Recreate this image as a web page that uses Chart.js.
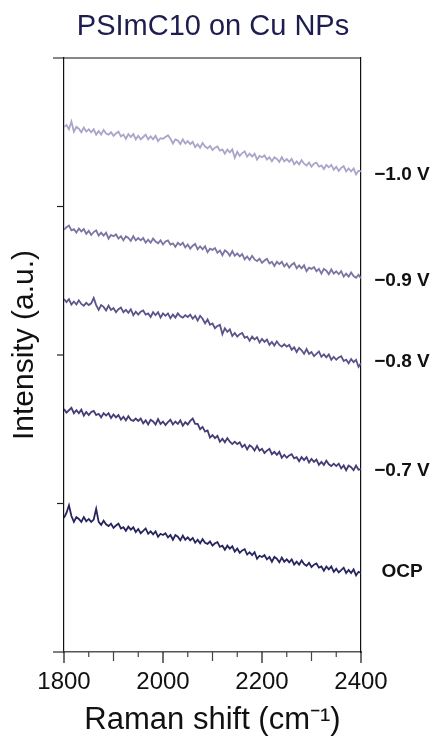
<!DOCTYPE html>
<html>
<head>
<meta charset="utf-8">
<script src="https://cdn.jsdelivr.net/npm/chart.js@4/dist/chart.umd.min.js"></script>
<style>
  body { margin: 0; background: #fff; }
</style>
</head>
<body>
<canvas id="ramanChart" width="436" height="740"></canvas>
<script>
// Raman shift (cm-1), sampled every 5
const shift = [
  1800, 1805, 1810, 1815, 1820, 1825, 1830, 1835, 1840, 1845,
  1850, 1855, 1860, 1865, 1870, 1875, 1880, 1885, 1890, 1895,
  1900, 1905, 1910, 1915, 1920, 1925, 1930, 1935, 1940, 1945,
  1950, 1955, 1960, 1965, 1970, 1975, 1980, 1985, 1990, 1995,
  2000, 2005, 2010, 2015, 2020, 2025, 2030, 2035, 2040, 2045,
  2050, 2055, 2060, 2065, 2070, 2075, 2080, 2085, 2090, 2095,
  2100, 2105, 2110, 2115, 2120, 2125, 2130, 2135, 2140, 2145,
  2150, 2155, 2160, 2165, 2170, 2175, 2180, 2185, 2190, 2195,
  2200, 2205, 2210, 2215, 2220, 2225, 2230, 2235, 2240, 2245,
  2250, 2255, 2260, 2265, 2270, 2275, 2280, 2285, 2290, 2295,
  2300, 2305, 2310, 2315, 2320, 2325, 2330, 2335, 2340, 2345,
  2350, 2355, 2360, 2365, 2370, 2375, 2380, 2385, 2390, 2395,
  2400
];

// stacked intensities (a.u., offset per potential)
const vNeg10 = [
  88.4, 88.7, 88.0, 89.3, 87.6, 88.4, 88.1, 87.5, 88.3, 87.6,
  88.0, 87.5, 88.0, 87.1, 87.7, 87.1, 87.9, 87.3, 87.1, 87.5,
  86.9, 87.3, 87.6, 86.8, 87.1, 86.4, 87.2, 86.7, 87.2, 86.3,
  86.9, 86.3, 86.7, 87.1, 86.3, 86.8, 86.3, 86.9, 86.0, 86.5,
  86.4, 86.7, 87.0, 86.4, 85.6, 86.3, 86.1, 85.5, 86.3, 85.6,
  86.0, 85.5, 85.9, 85.0, 85.5, 84.9, 85.7, 85.1, 84.8, 85.2,
  84.5, 84.9, 85.1, 84.4, 84.6, 83.9, 84.6, 84.1, 84.6, 83.2,
  84.2, 83.5, 84.0, 84.3, 83.4, 83.9, 83.4, 83.9, 82.9, 83.5,
  83.3, 83.6, 82.9, 83.3, 82.6, 83.3, 83.0, 82.5, 83.3, 82.6,
  83.0, 82.5, 83.0, 82.1, 82.6, 82.1, 82.8, 82.2, 81.9, 82.4,
  81.7, 82.2, 82.4, 81.7, 81.9, 81.3, 82.0, 81.6, 82.0, 81.2,
  81.7, 81.0, 81.5, 81.8, 80.9, 81.4, 80.9, 81.4, 80.4, 81.0,
  80.9
];
const vNeg09 = [
  71.1, 71.5, 71.8, 71.0, 71.2, 70.6, 71.3, 70.8, 71.2, 70.4,
  70.9, 70.2, 70.7, 71.0, 70.1, 70.6, 70.1, 70.6, 69.6, 70.2,
  70.0, 70.3, 69.6, 70.0, 69.3, 70.0, 69.7, 69.2, 70.0, 69.3,
  69.7, 69.3, 69.7, 68.9, 69.4, 68.9, 69.6, 69.1, 68.8, 69.3,
  68.6, 69.1, 69.3, 68.6, 68.8, 68.2, 68.9, 68.5, 68.9, 68.1,
  68.6, 67.9, 68.4, 68.7, 67.8, 68.3, 67.8, 68.3, 67.3, 67.9,
  67.7, 68.0, 67.2, 67.6, 66.8, 67.6, 67.3, 66.7, 67.5, 66.7,
  67.1, 66.6, 67.0, 66.1, 66.6, 66.0, 66.7, 66.1, 65.8, 66.2,
  65.5, 65.9, 66.2, 65.4, 65.7, 65.0, 65.7, 65.3, 65.7, 64.9,
  65.4, 64.7, 65.2, 65.5, 64.6, 65.1, 64.6, 65.1, 64.1, 64.7,
  64.5, 64.8, 64.1, 64.5, 63.7, 64.5, 64.2, 63.6, 64.4, 63.7,
  64.1, 63.6, 64.1, 63.2, 63.7, 63.2, 63.9, 63.3, 63.0, 63.5,
  62.9
];
const vNeg08 = [
  59.4, 58.9, 59.4, 58.5, 59.0, 58.5, 59.2, 58.6, 58.3, 58.8,
  58.4, 58.7, 59.6, 58.4, 57.6, 58.4, 58.1, 57.5, 58.3, 57.6,
  57.9, 57.2, 57.7, 58.0, 57.2, 57.6, 57.1, 57.7, 56.7, 57.3,
  56.8, 57.3, 57.5, 56.8, 57.0, 56.4, 57.2, 56.7, 57.2, 56.3,
  57.0, 56.6, 57.0, 56.2, 56.8, 56.3, 57.0, 56.5, 56.3, 56.7,
  56.4, 56.8, 56.1, 56.6, 55.8, 56.6, 56.1, 55.3, 56.0, 55.1,
  55.3, 54.5, 54.9, 55.1, 53.5, 54.5, 53.9, 54.3, 53.2, 53.7,
  53.1, 53.5, 53.7, 52.9, 53.1, 52.4, 53.1, 52.6, 53.0, 52.1,
  52.7, 52.2, 52.6, 51.7, 52.2, 51.6, 52.3, 51.7, 51.4, 51.8,
  51.4, 51.7, 50.9, 51.3, 50.5, 51.2, 50.8, 50.2, 51.0, 50.2,
  50.5, 49.8, 50.2, 50.6, 49.7, 50.1, 49.6, 50.1, 49.2, 49.7,
  49.2, 49.6, 49.8, 49.0, 49.2, 48.6, 49.3, 48.8, 49.2, 48.0,
  48.6
];
const vNeg07 = [
  40.9, 40.3, 40.7, 41.1, 40.2, 40.7, 40.2, 40.8, 39.8, 40.4,
  39.9, 40.4, 40.6, 39.9, 40.1, 39.5, 40.2, 39.8, 40.2, 39.4,
  40.0, 39.5, 39.9, 39.1, 39.6, 39.0, 39.7, 39.1, 38.9, 39.3,
  38.9, 39.3, 38.5, 39.0, 38.3, 39.1, 38.8, 38.3, 39.2, 38.4,
  38.8, 38.2, 38.7, 39.1, 38.3, 38.8, 38.4, 39.0, 38.1, 38.7,
  38.3, 38.9, 39.3, 38.4, 38.4, 37.5, 37.9, 37.1, 37.3, 36.1,
  36.5, 36.0, 36.4, 35.4, 35.9, 35.3, 36.0, 35.4, 35.0, 35.4,
  35.0, 35.3, 34.5, 34.9, 34.1, 34.8, 34.5, 33.9, 34.7, 33.9,
  34.2, 33.5, 33.9, 34.2, 33.3, 33.7, 33.2, 33.7, 32.7, 33.2,
  32.7, 33.1, 33.3, 32.6, 32.8, 32.1, 32.8, 32.3, 32.8, 31.9,
  32.5, 32.0, 32.4, 31.5, 32.0, 31.5, 32.2, 31.6, 31.3, 31.7,
  31.3, 31.7, 30.9, 31.4, 30.6, 31.4, 31.1, 30.6, 31.4, 30.7,
  30.8
];
const vOcp = [
  22.6, 23.4, 24.7, 22.9, 21.9, 22.7, 22.4, 21.9, 22.7, 22.0,
  22.4, 21.9, 22.3, 24.1, 21.9, 21.4, 22.1, 21.5, 21.2, 21.6,
  20.9, 21.3, 21.6, 20.8, 21.0, 20.4, 21.1, 20.6, 21.0, 20.2,
  20.7, 20.0, 20.4, 20.8, 19.9, 20.3, 19.8, 20.3, 19.4, 19.9,
  19.7, 20.0, 19.3, 19.7, 18.9, 19.7, 19.4, 18.8, 19.6, 18.9,
  19.3, 18.8, 19.2, 18.4, 18.9, 18.3, 19.0, 18.4, 18.2, 18.6,
  17.9, 18.3, 18.5, 17.7, 17.9, 17.2, 17.9, 17.4, 17.8, 16.9,
  17.4, 16.7, 17.1, 17.3, 16.4, 16.8, 16.3, 16.8, 15.7, 16.2,
  16.0, 16.3, 15.6, 16.0, 15.2, 16.0, 15.7, 15.1, 15.9, 15.2,
  15.6, 15.1, 15.6, 14.7, 15.2, 14.7, 15.4, 14.8, 14.5, 15.0,
  14.3, 14.7, 14.9, 14.2, 14.4, 13.7, 14.4, 13.9, 14.4, 13.5,
  14.0, 13.4, 13.8, 14.2, 13.3, 13.8, 13.3, 13.9, 12.9, 13.5,
  13.3
];

const seriesNames = ['\u22121.0 V', '\u22120.9 V', '\u22120.8 V', '\u22120.7 V', 'OCP'];
const seriesValues = [vNeg10, vNeg09, vNeg08, vNeg07, vOcp];
const seriesColors = ['#aaa5c9', '#7b75a3', '#5b5389', '#433c75', '#26255f'];
const labelAt = [80.3, 62.5, 48.8, 30.5, 13.5];   // where the potential labels sit
const xTicks = [1800, 2000, 2200, 2400];
const yTicks = [25, 50, 75];

const FONT = '"Liberation Sans", Arial, sans-serif';

// frame extras, minor ticks, y title and the potential labels on the right
const axisMarks = {
    id: 'axisMarks',
    afterDraw(chart) {
        const { ctx, chartArea: a, scales: { x, y } } = chart;
        const line = (x1, y1, x2, y2) => {
            ctx.beginPath();
            ctx.moveTo(x1, y1);
            ctx.lineTo(x2, y2);
            ctx.stroke();
        };
        ctx.save();
        ctx.lineWidth = 1.2;
        ctx.strokeStyle = '#111';
        line(a.left - 11, a.top, a.right, a.top);

        ctx.strokeStyle = '#555';
        ctx.lineWidth = 1.5;
        line(a.left - 11, a.bottom, a.left, a.bottom);

        ctx.lineWidth = 1.2;
        ctx.strokeStyle = '#222';
        yTicks.forEach(v => {
            const py = y.getPixelForValue(v);
            line(a.left - 7, py, a.left, py);
        });

        for (let v = x.min; v <= x.max; v += 50) {
            const px = x.getPixelForValue(v);
            const len = v % 200 === 0 ? 11 : (v % 100 === 0 ? 9 : 5);
            ctx.strokeStyle = v % 200 === 0 ? '#111' : '#444';
            line(px, a.bottom, px, a.bottom + len);
        }

        // y axis title, sits a little above the middle like the original
        ctx.save();
        ctx.translate(25, (a.top + a.bottom) / 2 - 10);
        ctx.rotate(-Math.PI / 2);
        ctx.font = '30px ' + FONT;
        ctx.fillStyle = '#111';
        ctx.textAlign = 'center';
        ctx.textBaseline = 'middle';
        ctx.fillText('Intensity (a.u.)', 0, 0);
        ctx.restore();

        ctx.font = 'bold 19px ' + FONT;
        ctx.fillStyle = '#111';
        ctx.textAlign = 'center';
        ctx.textBaseline = 'middle';
        seriesNames.forEach((name, i) => {
            ctx.fillText(name, a.right + 41, y.getPixelForValue(labelAt[i]));
        });
        ctx.restore();
    }
};

const ctx = document.getElementById('ramanChart').getContext('2d');
const ramanChart = new Chart(ctx, {
    type: 'line',
    data: {
        datasets: seriesValues.map((vals, i) => ({
            label: seriesNames[i],
            data: vals.map((v, j) => ({ x: shift[j], y: v })),
            borderColor: seriesColors[i],
            borderWidth: 1.8,
            borderJoinStyle: 'miter',
            pointRadius: 0,
            tension: 0,
            fill: false
        }))
    },
    options: {
        responsive: false,
        animation: false,
        layout: { padding: { right: 10 } },
        plugins: {
            legend: { display: false },
            tooltip: { enabled: false },
            title: {
                display: true,
                text: 'PSImC10 on Cu NPs',
                color: '#1d1d4f',
                font: { family: FONT, size: 29, weight: 'normal', lineHeight: 1.2 },
                padding: { top: 10, bottom: 13.2 }
            }
        },
        scales: {
            x: {
                type: 'linear',
                min: 1800,
                max: 2400,
                afterFit: s => { s.height = 88; },
                afterBuildTicks: s => { s.ticks = xTicks.map(v => ({ value: v })); },
                ticks: {
                    color: '#111',
                    padding: 5,
                    maxRotation: 0,
                    font: { family: FONT, size: 24 },
                    callback: v => String(v)
                },
                grid: { display: false, drawTicks: true, tickLength: 11 },
                border: { display: true, color: '#555', width: 1.5 },
                title: {
                    display: true,
                    text: 'Raman shift (cm\u207B\u00B9)',
                    color: '#111',
                    font: { family: FONT, size: 31, lineHeight: 1 },
                    padding: { top: 0, bottom: 4.5 }
                }
            },
            y: {
                min: 0,
                max: 100,
                afterFit: s => { s.width = 64; },
                ticks: { display: false, stepSize: 25 },
                grid: { display: false },
                border: { display: true, color: '#111', width: 1.2 }
            },
            y2: {
                position: 'right',
                min: 0,
                max: 100,
                afterFit: s => { s.width = 65; },
                ticks: { display: false },
                grid: { display: false },
                border: { display: true, color: '#111', width: 1.2 }
            }
        }
    },
    plugins: [axisMarks]
});
</script>
</body>
</html>
